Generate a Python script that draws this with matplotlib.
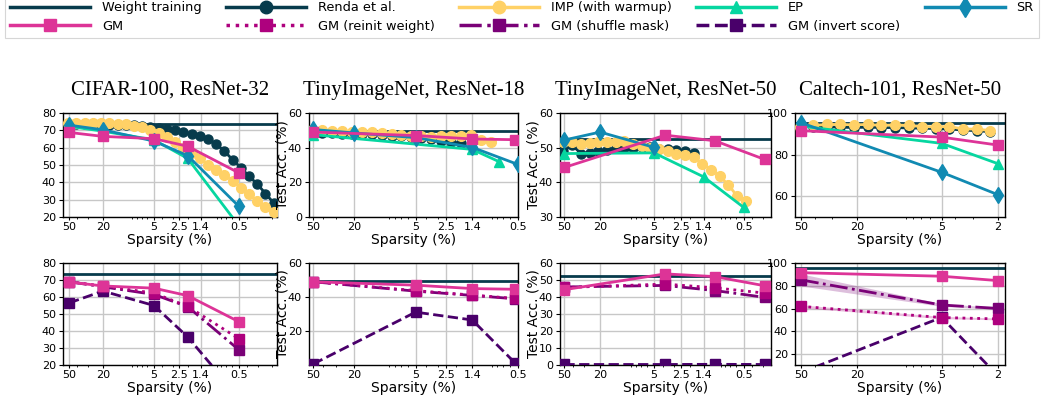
import matplotlib
matplotlib.use("Agg")
import matplotlib.pyplot as plt
from matplotlib.lines import Line2D
from matplotlib.ticker import FixedLocator, NullFormatter, LogLocator
import numpy as np

# ---------------- data ----------------
titles = ["CIFAR-100, ResNet-32", "TinyImageNet, ResNet-18",
          "TinyImageNet, ResNet-50", "Caltech-101, ResNet-50"]
xtick_vals = [[50, 20, 5, 2.5, 1.4, 0.5]] * 3 + [[50, 20, 5, 2]]
xtick_labels = [["50", "20", "5", "2.5", "1.4", "0.5"]] * 3 + [["50", "20", "5", "2"]]

# densities of the iterative-pruning curves (80% kept per round)
dens_iter = [51.2, 40.96, 32.77, 26.21, 20.97, 16.78, 13.42, 10.74, 8.59, 6.87,
             5.50, 4.40, 3.52, 2.81, 2.25, 1.80, 1.44, 1.15, 0.922, 0.738,
             0.590, 0.472, 0.378, 0.302, 0.242, 0.193]

weight_training = [73.5, 49.7, 52.6, 95.4]

renda_y = [
    [73.3, 73.4, 73.5, 73.4, 73.3, 73.2, 73.1, 73.0, 72.8, 72.5, 72.0, 71.5, 70.8,
     70.0, 69.2, 68.0, 66.6, 64.8, 62.0, 58.0, 53.0, 48.5, 43.5, 39.0, 33.5, 28.0],
    [48.8, 48.5, 48.3, 48.0, 48.0, 47.8, 47.6, 47.4, 47.0, 46.5, 46.0, 45.5, 44.8,
     44.0, 43.2, 42.5],
    [49.0, 50.8, 48.3, 48.5, 49.0, 49.2, 49.8, 49.8, 50.0, 50.2, 50.2, 49.7, 49.5,
     49.3, 49.0, 48.5],
    [93.5, 93.5, 93.3, 93.2, 93.0, 93.2, 93.0, 93.0, 92.8, 92.7, 92.5, 92.3, 91.8,
     91.5, 91.0],
]
imp_y = [
    [74.0, 74.2, 74.2, 74.2, 74.1, 74.0, 73.8, 73.4, 72.7, 71.7, 70.2, 68.5, 66.0,
     63.0, 60.0, 57.0, 54.0, 50.0, 47.0, 44.0, 41.0, 37.0, 33.0, 29.5, 25.5, 23.0],
    [50.2, 50.0, 49.8, 49.5, 49.3, 49.0, 48.8, 48.5, 48.0, 47.5, 47.0, 46.5, 46.3,
     46.5, 46.5, 46.5, 47.3, 44.6, 43.0],
    [51.5, 51.5, 51.0, 51.3, 51.7, 51.5, 51.7, 52.0, 51.0, 50.5, 50.0, 49.5, 49.0,
     48.3, 47.8, 47.3, 45.3, 43.7, 41.7, 39.3, 36.0, 34.7],
    [93.5, 94.0, 94.5, 94.5, 94.3, 94.5, 94.0, 94.3, 94.0, 93.5, 93.3, 93.5, 92.3,
     92.3, 91.5],
]

ep_x = [[50, 20, 5, 2, 0.5], [50, 1.4, 0.77], [50, 5, 1.4, 0.5], [50, 5, 2]]
ep_y = [[72.3, 69.5, 64.5, 53.8, 15.0], [47.5, 39.0, 32.0],
        [48.3, 48.5, 41.6, 32.8], [93.7, 85.4, 75.7]]

sr_x = [[50, 20, 5, 2, 0.5], [50, 20, 5, 1.4, 0.5], [50, 20, 5], [50, 5, 2]]
sr_y = [[73.0, 70.3, 63.8, 55.4, 26.2], [50.5, 48.5, 45.8, 40.2, 30.3],
        [52.2, 54.5, 50.1], [95.3, 71.5, 60.8]]

gm_x = [[50, 20, 5, 2, 0.5], [50, 5, 1.4, 0.53], [50, 3.75, 1.05, 0.29], [50, 5, 2]]
gm_y = [[68.8, 66.5, 65.2, 60.8, 45.5], [49.0, 47.0, 45.0, 44.6],
        [44.3, 53.6, 52.0, 46.6], [91.5, 88.4, 84.6]]
reinit_y = [[69.0, 66.5, 62.3, 54.5, 35.5], [49.0, 43.8, 41.2, 39.2],
            [45.6, 47.6, 45.4, 42.3], [62.0, 52.2, 51.0]]
shuffle_y = [[69.0, 66.0, 61.5, 54.3, 29.0], [49.0, 43.5, 41.0, 39.0],
             [45.9, 46.8, 43.8, 39.8], [85.2, 63.2, 60.2]]
invert_y = [[56.5, 63.5, 55.0, 36.5, 1.0], [0.8, 31.2, 26.6, 1.2],
            [0.3, 0.3, 0.4, 0.3], [4.0, 52.3, 1.5]]
shuffle_std_caltech = [5.3, 1.2, 0.8]
reinit_std_caltech = [1.3, 1.0, 0.8]

top_ylim = [(20, 80), (0, 60), (30, 60), (50, 100)]
bot_ylim = [(20, 80), (0.2, 60), (0, 60), (10.6, 100)]
top_yticks = [[20, 30, 40, 50, 60, 70, 80], [0, 20, 40, 60], [30, 40, 50, 60], [60, 80, 100]]
bot_yticks = [[20, 30, 40, 50, 60, 70, 80], [20, 40, 60], [0, 10, 20, 30, 40, 50, 60],
              [20, 40, 60, 80, 100]]
xlims = [(59, 0.177), (55, 0.5), (56, 0.247), (55.2, 1.77)]

# ---------------- style ----------------
C_WT = "#073b4c"
C_IMP = "#ffd166"
C_EP = "#06d6a0"
C_SR = "#118ab2"
C_GM = "#dd3497"
C_RE = "#ae017e"
C_SH = "#7a0177"
C_IN = "#49006a"
LW = 2.0
MS = 6.5

fig = plt.figure(figsize=(10.45, 4.0), dpi=100)
W, H = 1045.0, 400.0
lefts = [63, 309, 560, 795]
widths = [214, 209, 211, 210]
top_box = (113, 217)
bot_box = (263, 365)


def make_ax(i, box):
    y0 = 1 - box[1] / H
    h = (box[1] - box[0]) / H
    return fig.add_axes([lefts[i] / W, y0, widths[i] / W, h])


def style(ax, i, ylim, yticks, ylabel):
    ax.set_xscale("log")
    ax.set_xlim(*xlims[i])
    ax.set_ylim(*ylim)
    ax.xaxis.set_major_locator(FixedLocator(xtick_vals[i]))
    ax.set_xticklabels(xtick_labels[i])
    ax.xaxis.set_minor_locator(LogLocator(base=10, subs=np.arange(2, 10)))
    ax.xaxis.set_minor_formatter(NullFormatter())
    ax.set_yticks(yticks)
    ax.grid(True, which="major", color="0.78", lw=1.0)
    ax.set_axisbelow(True)
    ax.tick_params(axis="x", which="major", labelsize=8, length=2.5, pad=1)
    ax.tick_params(axis="x", which="minor", length=1.5)
    ax.tick_params(axis="y", labelsize=8, length=3, pad=2)
    for s in ax.spines.values():
        s.set_linewidth(1.0)
    ax.set_xlabel("Sparsity (%)", fontsize=10, labelpad=1)
    if ylabel:
        ax.set_ylabel("Test Acc. (%)", fontsize=10)
        ax.yaxis.set_label_coords(-0.093, 0.5)


for i in range(4):
    # ---- top row ----
    ax = make_ax(i, top_box)
    ax.axhline(weight_training[i], color=C_WT, lw=LW, zorder=2)
    n = len(renda_y[i])
    ax.plot(dens_iter[:n], renda_y[i], color=C_WT, lw=LW, marker="o", ms=MS, zorder=3)
    m = len(imp_y[i])
    ax.plot(dens_iter[:m], imp_y[i], color=C_IMP, lw=LW, marker="o", ms=MS + 0.5, zorder=3)
    ax.plot(ep_x[i], ep_y[i], color=C_EP, lw=LW, marker="^", ms=MS + 1, zorder=4)
    ax.plot(sr_x[i], sr_y[i], color=C_SR, lw=LW, marker="d", ms=MS + 2, zorder=4)
    ax.plot(gm_x[i], gm_y[i], color=C_GM, lw=LW, marker="s", ms=MS + 1, zorder=5)
    style(ax, i, top_ylim[i], top_yticks[i], ylabel=(i in (1, 2)))
    ax.set_title(titles[i], fontsize=15, family="Liberation Serif", pad=13)

    # ---- bottom row ----
    ax = make_ax(i, bot_box)
    ax.axhline(weight_training[i], color=C_WT, lw=LW, zorder=2)
    if i == 3:
        r = np.array(reinit_y[i]); rs = np.array(reinit_std_caltech)
        s = np.array(shuffle_y[i]); ss = np.array(shuffle_std_caltech)
        ax.fill_between(gm_x[i], r - rs, r + rs, color=C_RE, alpha=0.25, lw=0, zorder=2)
        ax.fill_between(gm_x[i], s - ss, s + ss, color=C_SH, alpha=0.25, lw=0, zorder=2)
    ax.plot(gm_x[i], invert_y[i], color=C_IN, lw=LW, ls="--", marker="s", ms=MS + 1, zorder=3)
    ax.plot(gm_x[i], shuffle_y[i], color=C_SH, lw=LW, ls="-.", marker="s", ms=MS + 1, zorder=4)
    ax.plot(gm_x[i], reinit_y[i], color=C_RE, lw=LW, ls=":", marker="s", ms=MS + 1, zorder=4)
    ax.plot(gm_x[i], gm_y[i], color=C_GM, lw=LW, marker="s", ms=MS + 1, zorder=5)
    style(ax, i, bot_ylim[i], bot_yticks[i], ylabel=(i in (1, 2)))

# ---------------- legend ----------------
LLW, LMS = 2.5, 9
h = {
    "Weight training": Line2D([], [], color=C_WT, lw=LLW),
    "Renda et al.": Line2D([], [], color=C_WT, lw=LLW, marker="o", ms=LMS),
    "IMP (with warmup)": Line2D([], [], color=C_IMP, lw=LLW, marker="o", ms=LMS),
    "EP": Line2D([], [], color=C_EP, lw=LLW, marker="^", ms=LMS),
    "SR": Line2D([], [], color=C_SR, lw=LLW, marker="d", ms=LMS + 1),
    "GM": Line2D([], [], color=C_GM, lw=LLW, marker="s", ms=LMS),
    "GM (reinit weight)": Line2D([], [], color=C_RE, lw=LLW, ls=":", marker="s", ms=LMS),
    "GM (shuffle mask)": Line2D([], [], color=C_SH, lw=LLW, ls="-.", marker="s", ms=LMS),
    "GM (invert score)": Line2D([], [], color=C_IN, lw=LLW, ls="--", marker="s", ms=LMS),
}
order = ["Weight training", "GM", "Renda et al.", "GM (reinit weight)",
         "IMP (with warmup)", "GM (shuffle mask)", "EP", "GM (invert score)", "SR"]
leg = fig.legend([h[k] for k in order], order, ncol=5, loc="upper left",
                 bbox_to_anchor=(5 / W, 1 + 4 / H), borderaxespad=0,
                 fontsize=9.3, handlelength=6.2, handletextpad=0.9,
                 columnspacing=1.9, labelspacing=0.45, borderpad=0.4,
                 frameon=True, fancybox=False, edgecolor="0.8")
leg.get_frame().set_linewidth(0.8)

fig.savefig("out.png", dpi=100)
